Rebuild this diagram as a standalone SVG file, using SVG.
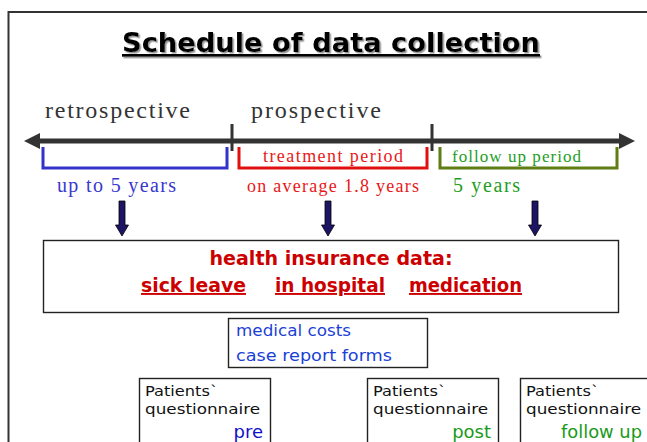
<svg xmlns="http://www.w3.org/2000/svg" width="647" height="442" viewBox="0 0 647 442">
<defs>
  <marker id="tl-head" viewBox="0 0 16 16" refX="2" refY="8" markerWidth="16" markerHeight="16" markerUnits="userSpaceOnUse" orient="auto-start-reverse">
    <polygon points="0,0 16,8 0,16" fill="#333"/>
  </marker>
  <filter id="shadow" x="-5%" y="-20%" width="110%" height="150%">
    <feDropShadow dx="1.5" dy="1.5" stdDeviation="0.6" flood-color="#888" flood-opacity="0.9"/>
  </filter>
  <style>
    .serif { font-family: "Liberation Serif", "Times New Roman", serif; }
    .comic { font-family: "DejaVu Sans", "Noto Sans", sans-serif; }
    .box { fill: #fff; stroke: #222; stroke-width: 1.4; }
    .tick { stroke: #333; stroke-width: 3; }
    .bracket { fill: none; stroke-width: 3; }
    .down { fill: #1e1466; stroke: #000; stroke-width: 0.8; }
    .pq { font-size: 14.5px; fill: #111; }
  </style>
</defs>
<rect width="647" height="442" fill="#fff"/>
<path d="M8.5,442 V12 H647" fill="none" stroke="#333" stroke-width="2"/>

<g id="title">
  <text x="331" y="52" class="comic" font-size="27" font-weight="bold" fill="#000" text-anchor="middle" textLength="418" lengthAdjust="spacingAndGlyphs" text-decoration="underline" filter="url(#shadow)">Schedule of data collection</text>
</g>

<g id="timeline">
  <text x="45" y="118" class="serif" font-size="24" fill="#333" textLength="145" lengthAdjust="spacing">retrospective</text>
  <text x="251" y="118" class="serif" font-size="24" fill="#333" textLength="130" lengthAdjust="spacing">prospective</text>
  <line x1="38" y1="141" x2="621" y2="141" stroke="#333" stroke-width="5" marker-start="url(#tl-head)" marker-end="url(#tl-head)"/>
  <line class="tick" x1="232" y1="124" x2="232" y2="151"/>
  <line class="tick" x1="432" y1="124" x2="432" y2="151"/>
</g>

<g id="retrospective-period">
  <path class="bracket" stroke="#3333cc" d="M43,147 V168 H227 V147"/>
  <text x="57" y="192" class="serif" font-size="20" fill="#3838d0" textLength="119" lengthAdjust="spacing">up to 5 years</text>
</g>
<g id="treatment-period">
  <path class="bracket" stroke="#e01010" d="M239,147 V168 H427 V147"/>
  <text x="263" y="162" class="serif" font-size="18" fill="#e81818" textLength="140" lengthAdjust="spacing">treatment period</text>
  <text x="247" y="192" class="serif" font-size="18" fill="#e81818" textLength="172" lengthAdjust="spacing">on average 1.8 years</text>
</g>
<g id="follow-up-period">
  <path class="bracket" stroke="#5e7d12" d="M440,147 V168 H617 V147"/>
  <text x="452" y="162" class="serif" font-size="17" fill="#1e9e1e" textLength="129" lengthAdjust="spacing">follow up period</text>
  <text x="453" y="192" class="serif" font-size="20" fill="#1e9e1e" textLength="67" lengthAdjust="spacing">5 years</text>
</g>

<g id="connectors">
  <polygon class="down" points="119,201 125,201 125,225 128.5,225 122,236 115.5,225 119,225"/>
  <polygon class="down" points="325,201 331,201 331,225 334.5,225 328,236 321.5,225 325,225"/>
  <polygon class="down" points="532,201 538,201 538,225 541.5,225 535,236 528.5,225 532,225"/>
</g>

<g id="health-insurance-data">
  <rect class="box" x="43.5" y="240.5" width="575" height="72" stroke="#111"/>
  <text x="331" y="265" class="comic" font-size="19" font-weight="bold" fill="#cc0000" text-anchor="middle" textLength="243" lengthAdjust="spacingAndGlyphs">health insurance data:</text>
  <text x="141" y="292" class="comic" font-size="19" font-weight="bold" fill="#cc0000" textLength="105" lengthAdjust="spacingAndGlyphs" text-decoration="underline">sick leave</text>
  <text x="275" y="292" class="comic" font-size="19" font-weight="bold" fill="#cc0000" textLength="110" lengthAdjust="spacingAndGlyphs" text-decoration="underline">in hospital</text>
  <text x="409" y="292" class="comic" font-size="19" font-weight="bold" fill="#cc0000" textLength="113" lengthAdjust="spacingAndGlyphs" text-decoration="underline">medication</text>
</g>

<g id="medical-costs">
  <rect class="box" x="228.5" y="318.5" width="199" height="49" stroke="#555" stroke-width="1.2"/>
  <text x="236" y="336" class="comic" font-size="16" fill="#1a3fd6" textLength="115" lengthAdjust="spacingAndGlyphs">medical costs</text>
  <text x="236" y="361" class="comic" font-size="16" fill="#1a3fd6" textLength="156" lengthAdjust="spacingAndGlyphs">case report forms</text>
</g>

<g id="questionnaire-pre">
  <rect class="box" x="139.5" y="378.5" width="131" height="80" stroke="#333" stroke-width="1.2"/>
  <text x="145" y="396" class="comic pq" textLength="73" lengthAdjust="spacingAndGlyphs">Patients`</text>
  <text x="145" y="414" class="comic pq" textLength="115" lengthAdjust="spacingAndGlyphs">questionnaire</text>
  <text x="263" y="438" class="comic" font-size="18" fill="#1010cc" text-anchor="end">pre</text>
</g>

<g id="questionnaire-post">
  <rect class="box" x="367.5" y="378.5" width="131" height="80" stroke="#333" stroke-width="1.2"/>
  <text x="373" y="396" class="comic pq" textLength="73" lengthAdjust="spacingAndGlyphs">Patients`</text>
  <text x="373" y="414" class="comic pq" textLength="115" lengthAdjust="spacingAndGlyphs">questionnaire</text>
  <text x="491" y="438" class="comic" font-size="18" fill="#1a9a1a" text-anchor="end">post</text>
</g>

<g id="questionnaire-follow-up">
  <rect class="box" x="520.5" y="378.5" width="140" height="80" stroke="#333" stroke-width="1.2"/>
  <text x="526" y="396" class="comic pq" textLength="73" lengthAdjust="spacingAndGlyphs">Patients`</text>
  <text x="526" y="414" class="comic pq" textLength="115" lengthAdjust="spacingAndGlyphs">questionnaire</text>
  <text x="642" y="438" class="comic" font-size="18" fill="#1a9a1a" text-anchor="end" textLength="81" lengthAdjust="spacingAndGlyphs">follow up</text>
</g>
</svg>
